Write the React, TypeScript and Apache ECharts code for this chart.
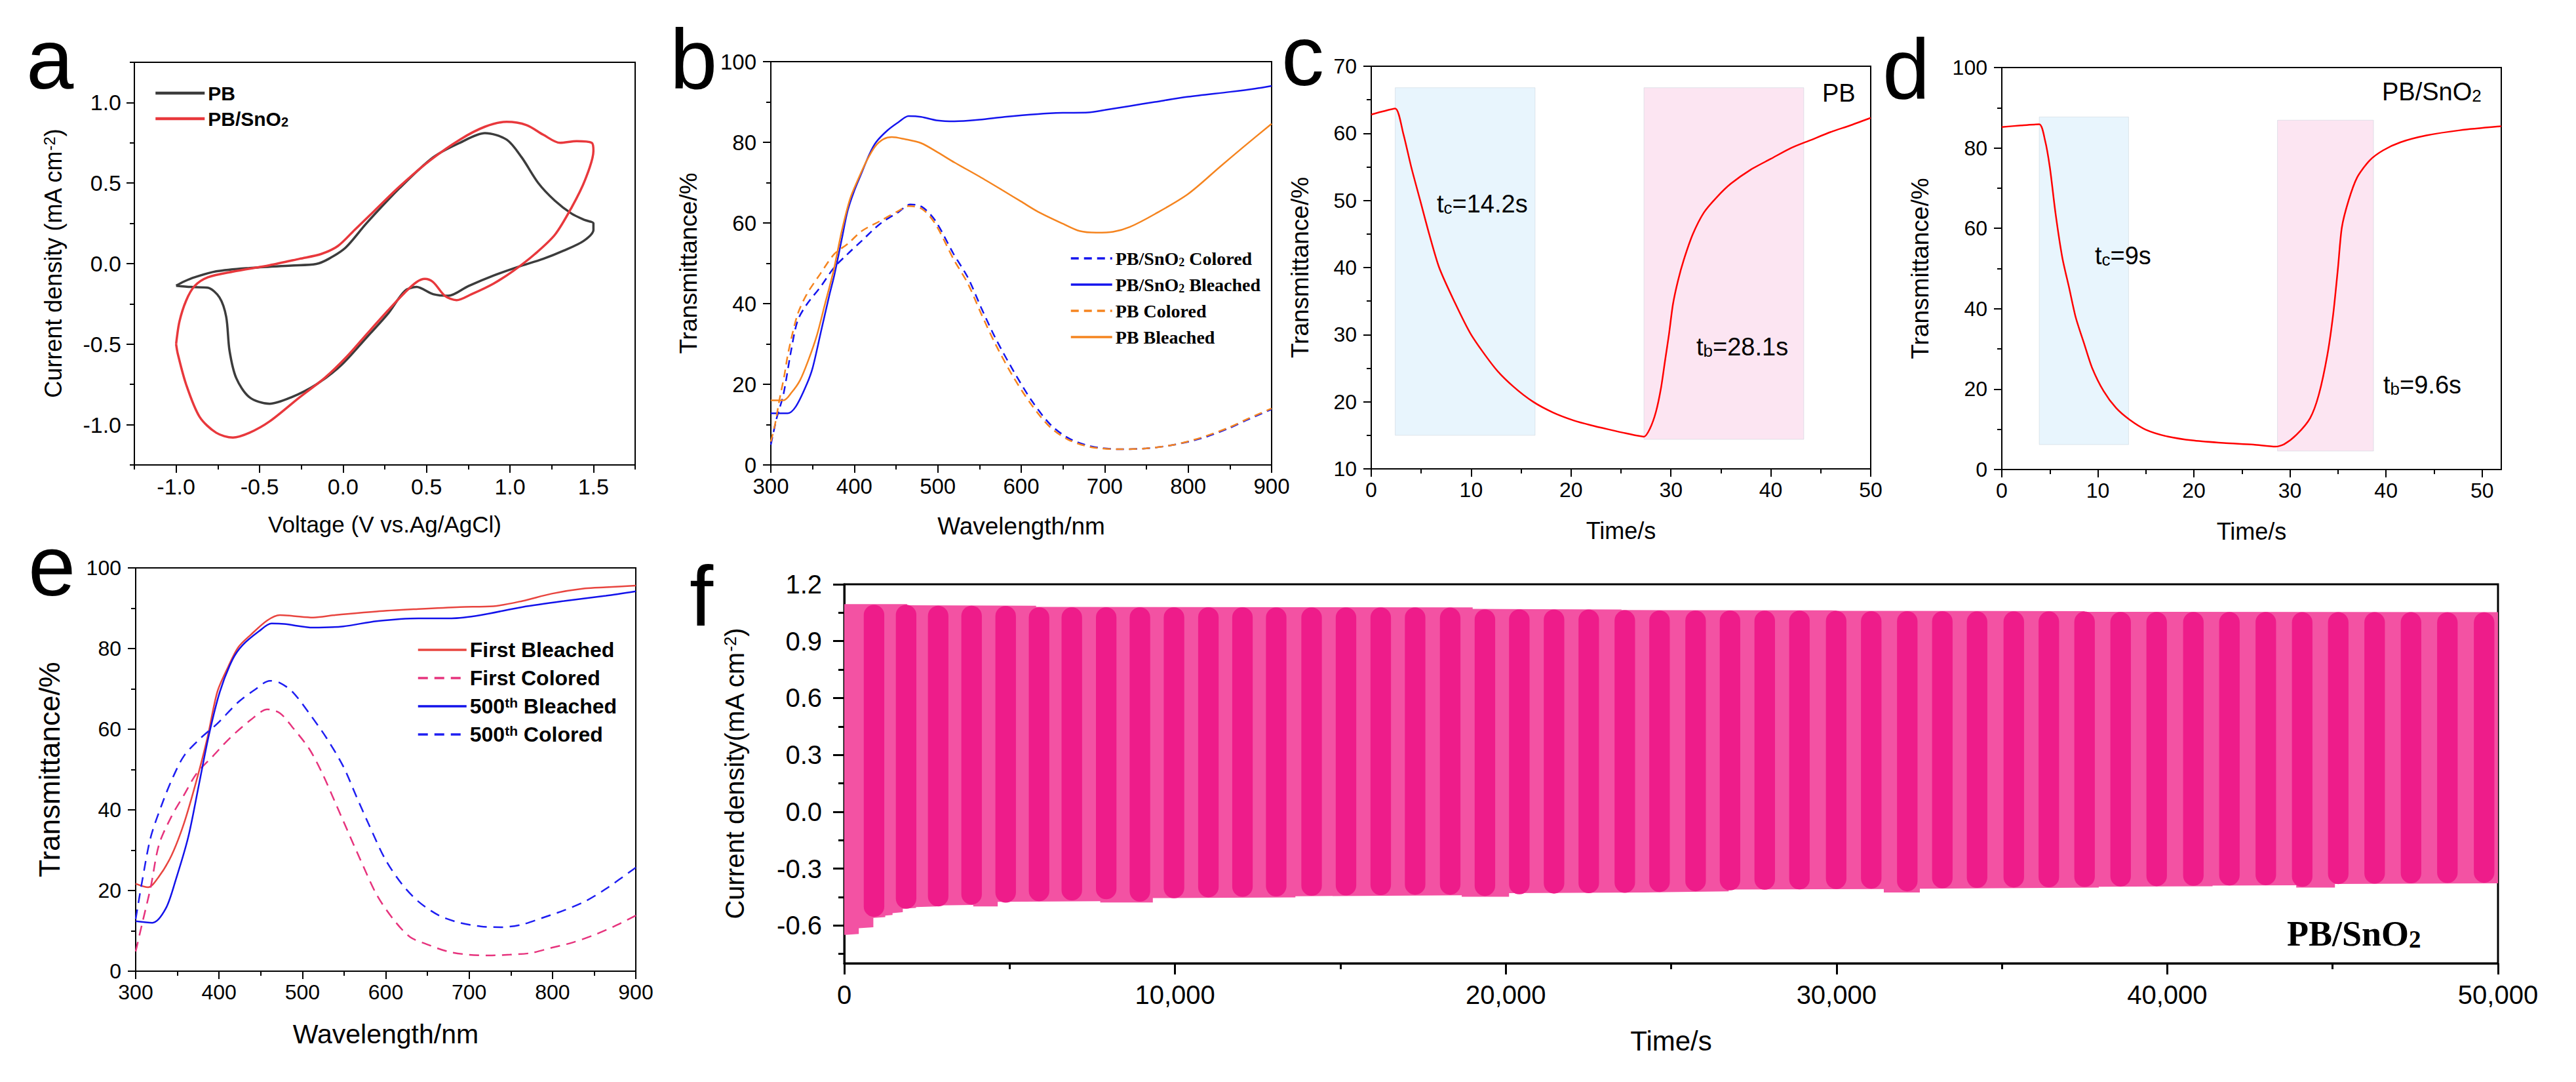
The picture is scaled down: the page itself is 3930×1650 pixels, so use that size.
import React, { useEffect, useRef } from "react";
import * as echarts from "echarts";

const SANS = "'Liberation Sans', Arial, sans-serif";
const SERIF = "'Liberation Serif', 'Times New Roman', serif";

// ---------------- Panel a : cyclic voltammetry ----------------
const cvPB: number[][] = [
  [-1.0, -0.137], [-0.95, -0.11], [-0.89, -0.085], [-0.76, -0.048], [-0.56, -0.027], [-0.31, -0.012],
  [-0.16, -0.002], [-0.085, 0.03], [0.016, 0.1], [0.14, 0.25], [0.34, 0.47], [0.54, 0.66], [0.7, 0.75],
  [0.85, 0.81], [0.98, 0.77], [1.07, 0.66], [1.17, 0.5], [1.27, 0.39], [1.37, 0.31], [1.45, 0.27],
  [1.5, 0.25], [1.5, 0.21], [1.44, 0.14], [1.32, 0.08], [1.2, 0.03], [1.05, -0.02], [0.9, -0.075],
  [0.75, -0.14], [0.63, -0.2], [0.54, -0.19], [0.44, -0.145], [0.37, -0.17], [0.27, -0.31], [0.14, -0.46],
  [-0.01, -0.63], [-0.16, -0.75], [-0.31, -0.83], [-0.44, -0.87], [-0.56, -0.83], [-0.64, -0.71],
  [-0.68, -0.54], [-0.7, -0.33], [-0.74, -0.21], [-0.81, -0.15], [-0.91, -0.145], [-1.0, -0.137],
];
const cvPBSnO2: number[][] = [
  [-1.0, -0.5], [-0.98, -0.36], [-0.94, -0.23], [-0.89, -0.14], [-0.81, -0.085], [-0.66, -0.05],
  [-0.44, -0.01], [-0.26, 0.03], [-0.13, 0.06], [-0.03, 0.11], [0.07, 0.21], [0.19, 0.33], [0.34, 0.48],
  [0.52, 0.64], [0.7, 0.77], [0.85, 0.85], [0.98, 0.88], [1.1, 0.86], [1.2, 0.8], [1.3, 0.75], [1.4, 0.76],
  [1.49, 0.75], [1.5, 0.7], [1.45, 0.52], [1.37, 0.35], [1.27, 0.18], [1.15, 0.06], [1.02, -0.045],
  [0.9, -0.125], [0.77, -0.19], [0.68, -0.227], [0.61, -0.2], [0.54, -0.115], [0.49, -0.095], [0.44, -0.115],
  [0.37, -0.18], [0.27, -0.29], [0.14, -0.44], [0.02, -0.58], [-0.11, -0.71], [-0.26, -0.83], [-0.44, -0.98],
  [-0.56, -1.05], [-0.66, -1.08], [-0.76, -1.05], [-0.86, -0.95], [-0.94, -0.75], [-0.99, -0.56], [-1.0, -0.5],
];
const aXTicks = [-1, -0.5, 0, 0.5, 1, 1.5];
const aXMinor = [-1.25, -0.75, -0.25, 0.25, 0.75, 1.25, 1.75];
const aYTicks = [-1, -0.5, 0, 0.5, 1];
const aYMinor = [-1.25, -0.75, -0.25, 0.25, 0.75, 1.25];

// ---------------- Panel b : transmittance spectra ----------------
const bSnO2Colored: number[][] = [
  [300, 5], [307, 11.6], [315, 17.4], [324, 28], [332, 35.7], [343, 39.8], [359, 44], [376, 49], [392, 52.3],
  [409, 55.6], [431, 59.8], [453, 62.7], [467, 64.6], [481, 64], [497, 60.6], [519, 52.3], [536, 46.5],
  [552, 39], [569, 31.5], [591, 23.2], [613, 15.8], [635, 10], [657, 6.6], [684, 4.6], [717, 3.9], [750, 4.1],
  [783, 5], [816, 6.6], [849, 9.1], [871, 11.2], [900, 13.8],
];
const bSnO2Bleached: number[][] = [
  [300, 12.8], [320, 12.8], [330, 14.5], [343, 20], [350, 24], [360, 33], [370, 42], [376, 47], [385, 56],
  [392, 63], [400, 68], [409, 72.5], [418, 77], [426, 80], [440, 83], [453, 85], [465, 86.5], [480, 86.3],
  [500, 85.4], [520, 85.2], [550, 85.6], [580, 86.3], [620, 87], [650, 87.3], [680, 87.4], [700, 88],
  [730, 89], [760, 90], [800, 91.3], [850, 92.5], [880, 93.3], [900, 94],
];
const bPBColored: number[][] = [
  [300, 5.8], [305, 10], [310, 15.8], [316, 22], [321, 28], [332, 37.3], [343, 42.3], [359, 47.3], [376, 52.3],
  [392, 54.8], [409, 58], [431, 60.5], [453, 63], [465, 64.2], [481, 63.5], [497, 59.8], [519, 51], [536, 45],
  [552, 37.5], [569, 30], [590, 22], [612, 15], [634, 9.5], [656, 6.3], [684, 4.4], [717, 3.9], [750, 4.1],
  [783, 5], [816, 6.8], [849, 9.3], [871, 11.4], [900, 14],
];
const bPBBleached: number[][] = [
  [300, 16], [315, 16], [325, 18], [335, 21], [345, 26], [355, 32], [365, 40], [375, 48], [385, 58], [395, 66],
  [405, 71], [415, 75.5], [425, 79], [435, 80.8], [445, 81.3], [460, 80.8], [480, 79.8], [500, 77.5], [520, 75],
  [550, 71.5], [580, 67.8], [600, 65.3], [620, 62.8], [650, 59.8], [670, 58], [690, 57.6], [710, 57.8],
  [730, 59], [760, 62.2], [800, 67.2], [838, 73.9], [866, 78.8], [900, 84.6],
];
const wlTicks = [300, 400, 500, 600, 700, 800, 900];
const wlMinor = [350, 450, 550, 650, 750, 850];
const pctTicks = [0, 20, 40, 60, 80, 100];
const pctMinor = [10, 30, 50, 70, 90];

// ---------------- Panel c : PB switching ----------------
const cCurve: number[][] = [
  [0, 62.8], [1, 63.2], [2.4, 63.7], [3.2, 60], [4.0, 55], [4.9, 50], [5.8, 45], [6.8, 40], [8.3, 35], [10, 30],
  [12.4, 25], [14.2, 22.3], [16.2, 20], [18.2, 18.4], [20.3, 17.2], [22, 16.5], [23.7, 15.9], [25.5, 15.3],
  [27.3, 14.8], [27.9, 16], [28.5, 18.5], [29.0, 22], [29.4, 26], [29.8, 30], [30.2, 34.5], [30.7, 38],
  [31.3, 41.2], [32.2, 45], [33.3, 48.2], [34.6, 50.5], [36, 52.5], [38, 54.6], [40, 56.2], [42, 57.8],
  [44, 59], [46, 60.2], [48, 61.2], [50, 62.3],
];
const cColorRegion = [2.4, 16.4, 15, 66.8];
const cBleachRegion = [27.3, 43.3, 14.4, 66.8];
const cXTicks = [0, 10, 20, 30, 40, 50];
const cXMinor = [5, 15, 25, 35, 45];
const cYTicks = [10, 20, 30, 40, 50, 60, 70];
const cYMinor = [15, 25, 35, 45, 55, 65];

// ---------------- Panel d : PB/SnO2 switching ----------------
const dCurve: number[][] = [
  [0, 85.2], [2, 85.6], [3.9, 85.9], [4.5, 81.9], [5.0, 75.2], [5.6, 63.6], [6.3, 52.7], [7.0, 45.3],
  [7.7, 37.8], [8.6, 31.1], [9.4, 25.3], [10.6, 19.5], [11.9, 15.3], [13.3, 12.4], [15.0, 9.9], [17.3, 8.2],
  [20.0, 7.2], [23.1, 6.6], [26.2, 6.2], [28.5, 5.7], [29.4, 6.3], [30.7, 8.7], [32.1, 12.8], [33.0, 18.6],
  [33.9, 28.6], [34.5, 38.6], [35.0, 50.2], [35.4, 60.2], [36.1, 66.9], [37.0, 72.7], [38.3, 76.9],
  [39.7, 79.4], [41.5, 81.4], [44.2, 83.1], [47.7, 84.4], [52, 85.4],
];
const dColorRegion = [3.9, 13.2, 6.2, 87.7];
const dBleachRegion = [28.7, 38.7, 4.6, 86.9];

// ---------------- Panel e : cycling spectra ----------------
const eFirstBleached: number[][] = [
  [300, 21.7], [315, 20.8], [328, 23.5], [343, 28.7], [358, 36.7], [373, 47.3], [386, 57.8], [398, 69.3],
  [411, 75.5], [423, 80.3], [438, 83.4], [458, 87], [473, 88.3], [488, 88.1], [513, 87.7], [539, 88.3],
  [589, 89.2], [639, 89.8], [689, 90.3], [729, 90.5], [764, 91.8], [799, 93.6], [839, 94.9], [864, 95.2],
  [900, 95.6],
];
const eFirstColored: number[][] = [
  [300, 4.9], [308, 12], [318, 20.8], [328, 31.4], [343, 38.4], [358, 43.7], [373, 49], [393, 53.4],
  [413, 57.8], [438, 62.3], [458, 64.9], [473, 64], [488, 60.5], [508, 55.2], [524, 49], [539, 42],
  [554, 34.9], [569, 27.9], [589, 19], [609, 12.9], [629, 8.5], [649, 6.7], [674, 4.9], [699, 4.1],
  [724, 3.9], [749, 4.1], [774, 4.5], [799, 5.8], [824, 7.1], [849, 8.9], [874, 11.1], [900, 13.8],
];
const e500Bleached: number[][] = [
  [300, 12.4], [320, 12], [336, 15.5], [348, 22.6], [363, 33.2], [376, 46.4], [388, 58.7], [401, 69.3],
  [416, 77.2], [428, 80.8], [448, 84.3], [463, 86.2], [478, 86.1], [513, 85.2], [549, 85.5], [589, 86.8],
  [639, 87.5], [679, 87.5], [714, 88.3], [764, 90.3], [814, 91.8], [864, 93.1], [900, 94.2],
];
const e500Colored: number[][] = [
  [300, 12.9], [308, 22.6], [318, 33.2], [331, 41.1], [343, 47.3], [358, 53.4], [378, 57.8], [398, 61.4],
  [423, 66.7], [443, 69.8], [461, 72], [473, 71.5], [488, 69.3], [508, 64], [529, 57.8], [549, 50.8],
  [564, 43.7], [579, 36.7], [599, 27.9], [619, 21.7], [639, 17.3], [664, 13.8], [689, 12], [714, 11.1],
  [739, 10.9], [764, 11.6], [789, 13.3], [814, 15.1], [839, 17.3], [864, 20.4], [900, 25.7],
];

// ---------------- Panel f : long-term chronoamperometry ----------------
const fUpper: number[][] = [
  [0, 1.095], [1900, 1.095], [1900, 1.089], [5800, 1.087], [5800, 1.081], [19000, 1.078], [19000, 1.07],
  [23500, 1.067], [23500, 1.064], [30000, 1.062], [30000, 1.06], [37500, 1.058], [37500, 1.055], [50000, 1.053],
];
const fLower: number[][] = [
  [0, -0.65], [440, -0.645], [440, -0.615], [880, -0.61], [880, -0.56], [1240, -0.556], [1240, -0.548],
  [1460, -0.545], [1460, -0.535], [1770, -0.53], [1770, -0.512], [2170, -0.508], [2170, -0.503], [2790, -0.5],
  [2790, -0.495], [3900, -0.492], [3900, -0.5], [4640, -0.5], [4640, -0.476], [7740, -0.472], [7740, -0.479],
  [9330, -0.479], [9330, -0.456], [13640, -0.452], [13640, -0.446], [18670, -0.441], [18670, -0.449],
  [20100, -0.449], [20100, -0.43], [24200, -0.426], [26740, -0.42], [26740, -0.411], [31430, -0.408],
  [31430, -0.426], [32520, -0.426], [32520, -0.406], [34860, -0.404], [37930, -0.4], [37930, -0.396],
  [41370, -0.393], [41370, -0.39], [43900, -0.388], [43900, -0.4], [45070, -0.4], [45070, -0.381], [50000, -0.378],
];
const pillTime = [
  900, 1870, 2840, 3850, 4880, 5890, 6880, 7920, 8940, 9970, 11010, 12040, 13060, 14130, 15170, 16220,
  17260, 18320, 19370, 20410, 21460, 22510, 23600, 24650, 25740, 26780, 27830, 28880, 29990, 31050, 32140,
  33200, 34250, 35360, 36420, 37500, 38590, 39680, 40790, 41880, 42980, 44080, 45170, 46270, 47370, 48470, 49580,
];
const pillTop = [
  1.092, 1.092, 1.087, 1.087, 1.086, 1.079, 1.079, 1.079, 1.079, 1.079, 1.079, 1.079, 1.078, 1.078, 1.078,
  1.078, 1.078, 1.077, 1.068, 1.068, 1.067, 1.067, 1.063, 1.062, 1.062, 1.062, 1.061, 1.061, 1.06, 1.058,
  1.058, 1.058, 1.057, 1.057, 1.057, 1.056, 1.054, 1.054, 1.054, 1.054, 1.054, 1.053, 1.053, 1.053, 1.053,
  1.052, 1.052,
];
const pillBottom = [
  -0.555, -0.512, -0.5, -0.49, -0.48, -0.472, -0.468, -0.462, -0.474, -0.457, -0.452, -0.449, -0.447, -0.444,
  -0.442, -0.44, -0.438, -0.438, -0.445, -0.436, -0.432, -0.43, -0.428, -0.424, -0.42, -0.415, -0.412, -0.41,
  -0.408, -0.406, -0.42, -0.404, -0.402, -0.4, -0.399, -0.397, -0.395, -0.393, -0.391, -0.389, -0.388, -0.396,
  -0.382, -0.38, -0.378, -0.376, -0.375,
];
const fXTicks = [0, 10000, 20000, 30000, 40000, 50000];
const fXMinor = [5000, 15000, 25000, 35000, 45000];
const fYTicks = [-0.6, -0.3, 0, 0.3, 0.6, 0.9, 1.2];
const fYMinor = [-0.75, -0.45, -0.15, 0.15, 0.45, 0.75, 1.05];

// ---------------- helpers ----------------
const fmt1 = (v: number) => v.toFixed(1);
const fmtInt = (v: number) => String(Math.round(v));
const fmtComma = (v: number) => String(Math.round(v)).replace(/\B(?=(\d{3})+(?!\d))/g, ",");

interface AxOpt {
  grid: number; min: number; max: number; major: number[]; minor: number[];
  fmt: (v: number) => string; lw: number; tl: number; ml: number; fs: number; margin: number;
  name: string; nameGap: number; nameSize: number;
}

function axes(dim: "x" | "y", o: AxOpt): any[] {
  const position = dim === "x" ? "bottom" : "left";
  const common = {
    type: "value", gridIndex: o.grid, min: o.min, max: o.max, position, offset: 0,
    splitLine: { show: false }, splitArea: { show: false },
  };
  const major = {
    ...common,
    axisLine: { show: true, onZero: false, lineStyle: { color: "#000", width: o.lw } },
    axisTick: { show: true, inside: false, length: o.tl, customValues: o.major, lineStyle: { color: "#000", width: o.lw } },
    axisLabel: { show: true, customValues: o.major, formatter: o.fmt, margin: o.margin, fontSize: o.fs, fontFamily: SANS, color: "#000" },
    name: o.name, nameLocation: "middle", nameGap: o.nameGap,
    nameTextStyle: {
      fontSize: o.nameSize, fontFamily: SANS, color: "#000", lineHeight: o.nameSize,
      rich: {
        sup: { fontSize: Math.round(o.nameSize * 0.66), fontFamily: SANS, color: "#000", lineHeight: Math.round(o.nameSize * 0.5), verticalAlign: "top" },
      },
    },
  };
  const minor = {
    ...common,
    axisLine: { show: false, onZero: false },
    axisTick: { show: true, inside: false, length: o.ml, customValues: o.minor, lineStyle: { color: "#000", width: o.lw } },
    axisLabel: { show: false },
  };
  return [major, minor];
}

function lineSeries(name: string, axis: number, data: number[][], color: string, width: number, dash: any, smooth: number, extra: any = {}) {
  return {
    name, type: "line", xAxisIndex: axis, yAxisIndex: axis, data,
    showSymbol: false, symbol: "none", smooth, clip: true, silent: true,
    lineStyle: { color, width, type: dash }, itemStyle: { color },
    emphasis: { disabled: true },
    ...extra,
  };
}

function regionArea(r: number[], color: string) {
  return [
    { coord: [r[0], r[3]], itemStyle: { color, borderColor: "rgba(200,210,220,0.5)", borderWidth: 1 } },
    { coord: [r[1], r[2]] },
  ];
}

const subRich = (size: number, font: string, weight: string) => ({
  fontSize: size, fontFamily: font, fontWeight: weight, color: "#000",
  lineHeight: Math.round(size * 0.55), verticalAlign: "bottom",
});
const supRich = (size: number, font: string, weight: string) => ({
  fontSize: size, fontFamily: font, fontWeight: weight, color: "#000",
  lineHeight: Math.round(size * 0.75), verticalAlign: "top",
});
const legendFmt = (n: string) => n.replace("SnO2", "SnO{sub|2}").replace("500th", "500{sup|th}");
const hiddenSymbol = { opacity: 0, color: "rgba(0,0,0,0)", borderWidth: 0 };

function gText(text: string, x: number, y: number, size: number, font = SANS, weight = "normal") {
  return {
    type: "text", x, y, silent: true, z: 100,
    style: {
      text, fontSize: size, fontFamily: font, fontWeight: weight, fill: "#000",
      lineHeight: size, align: "left", verticalAlign: "middle",
      rich: {
        s: { fontSize: Math.round(size * 0.68), fontFamily: font, fontWeight: weight, fill: "#000", lineHeight: Math.round(size * 0.37), verticalAlign: "bottom" },
      },
    },
  };
}

function buildOption(): any {
  const gridBoxes = [
    { left: 205, top: 95, width: 764, height: 614, bw: 2 },
    { left: 1176, top: 94, width: 764, height: 615, bw: 2 },
    { left: 2092, top: 101, width: 762, height: 614, bw: 2 },
    { left: 3054, top: 103, width: 762, height: 613, bw: 2 },
    { left: 207, top: 866, width: 763, height: 615, bw: 2 },
    { left: 1288, top: 891, width: 2523, height: 578, bw: 3 },
  ];
  const grid = gridBoxes.map((g) => ({
    left: g.left, top: g.top, width: g.width, height: g.height, show: true,
    borderColor: "#000", borderWidth: g.bw, backgroundColor: "transparent", containLabel: false,
  }));

  const std = { lw: 2, tl: 12, ml: 7, fs: 32 };
  const xAxis = [
    ...axes("x", { grid: 0, min: -1.25, max: 1.75, major: aXTicks, minor: aXMinor, fmt: fmt1, ...std, fs: 34, margin: 16, name: "Voltage (V vs.Ag/AgCl)", nameGap: 73, nameSize: 35 }),
    ...axes("x", { grid: 1, min: 300, max: 900, major: wlTicks, minor: wlMinor, fmt: fmtInt, ...std, fs: 33, margin: 16, name: "Wavelength/nm", nameGap: 75, nameSize: 37 }),
    ...axes("x", { grid: 2, min: 0, max: 50, major: cXTicks, minor: cXMinor, fmt: fmtInt, ...std, margin: 16, name: "Time/s", nameGap: 76, nameSize: 36 }),
    ...axes("x", { grid: 3, min: 0, max: 52, major: cXTicks, minor: cXMinor, fmt: fmtInt, ...std, margin: 16, name: "Time/s", nameGap: 76, nameSize: 36 }),
    ...axes("x", { grid: 4, min: 300, max: 900, major: wlTicks, minor: wlMinor, fmt: fmtInt, ...std, margin: 16, name: "Wavelength/nm", nameGap: 75, nameSize: 41 }),
    ...axes("x", { grid: 5, min: 0, max: 50000, major: fXTicks, minor: fXMinor, fmt: fmtComma, lw: 3, tl: 17, ml: 9, fs: 40, margin: 28, name: "Time/s", nameGap: 97, nameSize: 42 }),
  ];
  const yAxis = [
    ...axes("y", { grid: 0, min: -1.25, max: 1.25, major: aYTicks, minor: aYMinor, fmt: fmt1, ...std, fs: 34, margin: 20, name: "Current density (mA cm{sup|-2})", nameGap: 106, nameSize: 36 }),
    ...axes("y", { grid: 1, min: 0, max: 100, major: pctTicks, minor: pctMinor, fmt: fmtInt, ...std, fs: 33, margin: 22, name: "Transmittance/%", nameGap: 107, nameSize: 37 }),
    ...axes("y", { grid: 2, min: 10, max: 70, major: cYTicks, minor: cYMinor, fmt: fmtInt, ...std, margin: 22, name: "Transmittance/%", nameGap: 90, nameSize: 37 }),
    ...axes("y", { grid: 3, min: 0, max: 100, major: pctTicks, minor: pctMinor, fmt: fmtInt, ...std, margin: 22, name: "Transmittance/%", nameGap: 106, nameSize: 37 }),
    ...axes("y", { grid: 4, min: 0, max: 100, major: pctTicks, minor: pctMinor, fmt: fmtInt, ...std, margin: 22, name: "Transmittance/%", nameGap: 110, nameSize: 44 }),
    ...axes("y", { grid: 5, min: -0.8, max: 1.2, major: fYTicks, minor: fYMinor, fmt: fmt1, lw: 3, tl: 17, ml: 9, fs: 40, margin: 34, name: "Current density(mA cm{sup|-2})", nameGap: 147, nameSize: 40 }),
  ];

  const BLUE = "#1414EE";
  const ORANGE = "#F5841F";
  const CV_RED = "#E8383C";
  const CV_GRAY = "#3C3C3C";
  const dashB = [12, 8];
  const dashE = [15, 10];

  const series: any[] = [
    lineSeries("PB", 0, cvPB, CV_GRAY, 3.5, "solid", 0.3),
    lineSeries("PB/SnO2", 0, cvPBSnO2, CV_RED, 3.5, "solid", 0.3),

    lineSeries("PB/SnO2 Colored", 2, bSnO2Colored, BLUE, 2.5, dashB, 0.3),
    lineSeries("PB/SnO2 Bleached", 2, bSnO2Bleached, BLUE, 2.5, "solid", 0.3),
    lineSeries("PB Colored", 2, bPBColored, ORANGE, 2.5, dashB, 0.3),
    lineSeries("PB Bleached", 2, bPBBleached, ORANGE, 2.5, "solid", 0.3),

    lineSeries("PB switching", 4, cCurve, "#FF0000", 2.5, "solid", 0.25, {
      markArea: { silent: true, data: [regionArea(cColorRegion, "#E8F5FD"), regionArea(cBleachRegion, "#FCE5F2")] },
    }),
    lineSeries("PB/SnO2 switching", 6, dCurve, "#FF0000", 2.5, "solid", 0.25, {
      markArea: { silent: true, data: [regionArea(dColorRegion, "#E8F5FD"), regionArea(dBleachRegion, "#FCE5F2")] },
    }),

    lineSeries("First Bleached", 8, eFirstBleached, "#E8453F", 2.5, "solid", 0.3),
    lineSeries("First Colored", 8, eFirstColored, "#E6337D", 2.5, dashE, 0.3),
    lineSeries("500th Bleached", 8, e500Bleached, "#1212EA", 2.5, "solid", 0.3),
    lineSeries("500th Colored", 8, e500Colored, "#1E1EF2", 2.5, dashE, 0.3),

    {
      name: "f envelope", type: "custom", coordinateSystem: "cartesian2d", xAxisIndex: 10, yAxisIndex: 10,
      silent: true, clip: true, data: [[0, 0]], encode: { x: 0, y: 1 },
      renderItem: (_p: any, api: any) => {
        const pts: number[][] = [];
        fUpper.forEach((d) => pts.push(api.coord(d)));
        for (let i = fLower.length - 1; i >= 0; i--) pts.push(api.coord(fLower[i]));
        return { type: "polygon", shape: { points: pts }, style: { fill: "#F352A3", stroke: "none" } };
      },
    },
    {
      name: "f cycles", type: "custom", coordinateSystem: "cartesian2d", xAxisIndex: 10, yAxisIndex: 10,
      silent: true, clip: true, z: 3,
      data: pillTime.map((t, i) => [t, pillTop[i], pillBottom[i]]),
      encode: { x: 0, y: [1, 2] },
      renderItem: (_p: any, api: any) => {
        const t = api.value(0);
        const top = api.coord([t, api.value(1)]);
        const bot = api.coord([t, api.value(2)]);
        const w = api.size([620, 0])[0];
        return {
          type: "rect",
          shape: { x: top[0] - w / 2, y: top[1], width: w, height: bot[1] - top[1], r: w / 2 },
          style: { fill: "#EE1C8A", stroke: "none" },
        };
      },
    },
  ];

  const legend = [
    {
      data: ["PB", "PB/SnO2"], left: 230, top: 122, orient: "vertical", itemWidth: 75, itemHeight: 30, itemGap: 9,
      selectedMode: false, formatter: legendFmt, itemStyle: hiddenSymbol, lineStyle: { width: 4.5 },
      textStyle: { fontFamily: SANS, fontWeight: "bold", fontSize: 30, color: "#000", lineHeight: 30, rich: { sub: subRich(20, SANS, "bold") } },
    },
    {
      data: ["PB/SnO2 Colored", "PB/SnO2 Bleached", "PB Colored", "PB Bleached"], left: 1627, top: 374, orient: "vertical",
      itemWidth: 63, itemHeight: 30, itemGap: 10, selectedMode: false, formatter: legendFmt, itemStyle: hiddenSymbol,
      lineStyle: { width: 3.5 },
      textStyle: { fontFamily: SERIF, fontWeight: "bold", fontSize: 28, color: "#000", lineHeight: 30, rich: { sub: subRich(18, SERIF, "bold") } },
    },
    {
      data: ["First Bleached", "First Colored", "500th Bleached", "500th Colored"], left: 631, top: 970, orient: "vertical",
      itemWidth: 74, itemHeight: 32, itemGap: 11, selectedMode: false, formatter: legendFmt, itemStyle: hiddenSymbol,
      lineStyle: { width: 3.5 },
      textStyle: { fontFamily: SANS, fontWeight: "bold", fontSize: 32, color: "#000", lineHeight: 32, rich: { sup: supRich(21, SANS, "bold") } },
    },
  ];

  const graphic = [
    gText("a", 40, 90, 130),
    gText("b", 1022, 90, 130),
    gText("c", 1955, 85, 130),
    gText("d", 2872, 105, 130),
    gText("e", 43, 863, 130),
    gText("f", 1052, 909, 130),
    gText("t{s|c}=14.2s", 2192, 311, 38),
    gText("t{s|b}=28.1s", 2588, 529, 38),
    gText("PB", 2780, 142, 38),
    gText("t{s|c}=9s", 3196, 390, 38),
    gText("t{s|b}=9.6s", 3636, 587, 38),
    gText("PB/SnO{s|2}", 3634, 140, 38),
    gText("PB/SnO{s|2}", 3489, 1424, 54, SERIF, "bold"),
  ];

  return {
    animation: false,
    backgroundColor: "#fff",
    grid, xAxis, yAxis, series, legend,
    graphic: { elements: graphic },
    tooltip: { show: false },
  };
}

export default function App() {
  const ref = useRef<HTMLDivElement>(null);
  useEffect(() => {
    document.body.style.margin = "0";
    const chart = echarts.init(ref.current as HTMLDivElement, null, { renderer: "svg" });
    chart.setOption(buildOption());
    return () => chart.dispose();
  }, []);
  return <div ref={ref} style={{ width: 3930, height: 1650, background: "#fff" }} />;
}
